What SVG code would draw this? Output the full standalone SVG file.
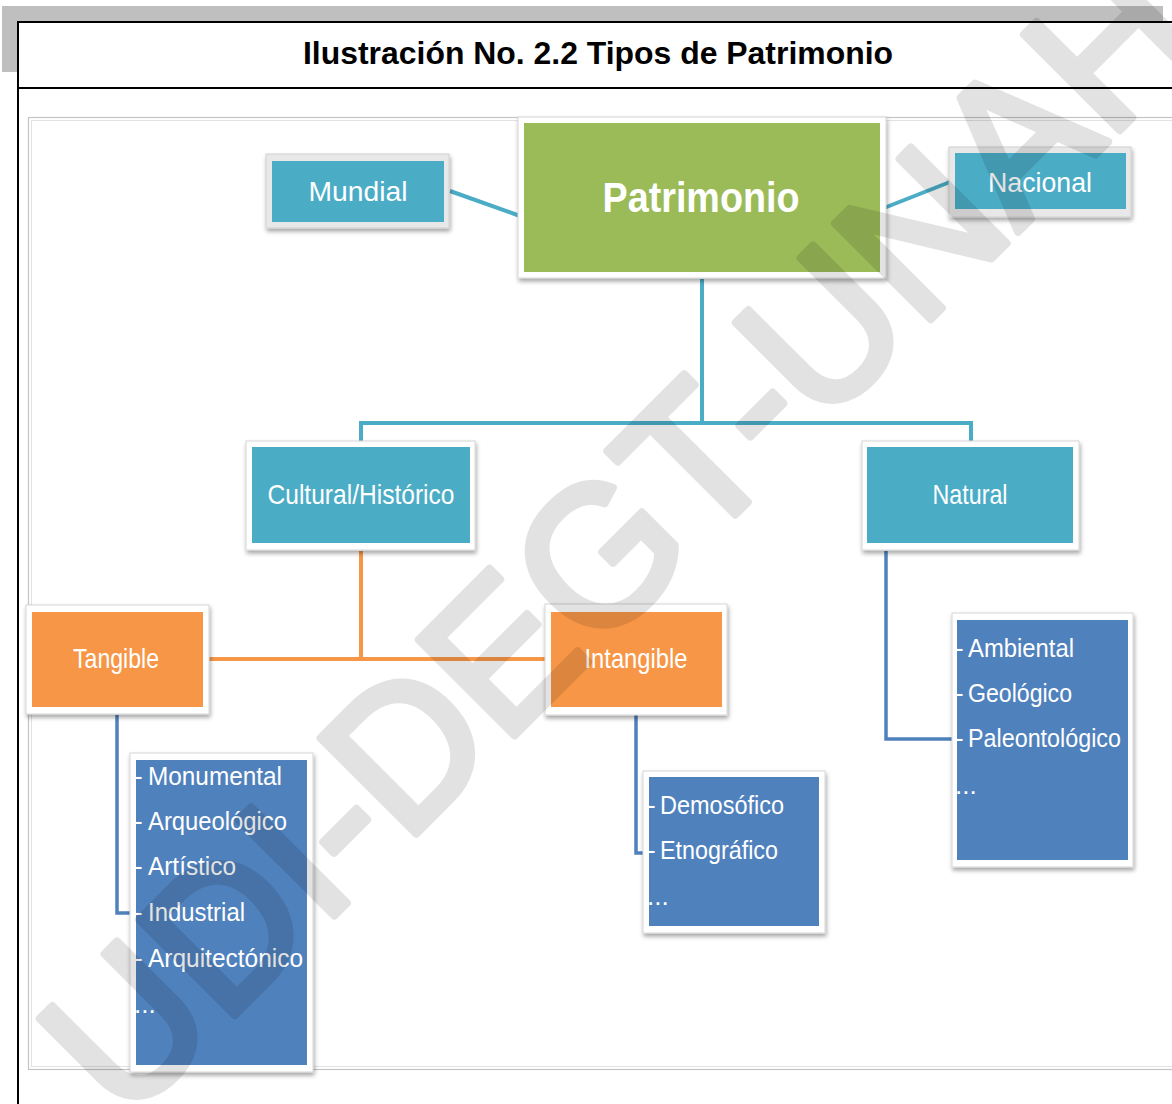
<svg xmlns="http://www.w3.org/2000/svg" width="1172" height="1104" viewBox="0 0 1172 1104">
<defs>
<filter id="sh" x="-10%" y="-10%" width="125%" height="130%">
<feDropShadow dx="1" dy="3" stdDeviation="2.2" flood-color="#000" flood-opacity="0.35"/>
</filter>
<style>
.frame{fill:#fff;stroke:#d6d6d6;stroke-width:1;filter:url(#sh)}
.gframe{fill:#e8e8e8;stroke:#d0d0d0;stroke-width:1;filter:url(#sh)}
.green{fill:#9BBB59}
.teal{fill:#4BACC6}
.orange{fill:#F79646}
.blue{fill:#4F81BD}
.lbl{font-family:"Liberation Sans",Arial,sans-serif;fill:#fff;font-size:28px;text-anchor:middle}
.big{font-family:"Liberation Sans",Arial,sans-serif;fill:#fff;font-size:43px;font-weight:bold;text-anchor:middle}
.item{font-family:"Liberation Sans",Arial,sans-serif;fill:#fff;font-size:26px}
.ct{fill:none;stroke:#4BACC6;stroke-width:4}
.co{fill:none;stroke:#F79646;stroke-width:4}
.cb{fill:none;stroke:#4F81BD;stroke-width:3.5}
</style>
</defs>
<rect x="0" y="0" width="1172" height="1104" fill="#fff"/>
<g id="page-frame">
<rect x="2" y="6" width="1161" height="15" fill="#bfbfbf"/>
<rect x="2" y="6" width="15" height="66" fill="#bfbfbf"/>
<line x1="17" y1="22" x2="1172" y2="22" stroke="#000" stroke-width="2"/>
<line x1="18" y1="21" x2="18" y2="1104" stroke="#000" stroke-width="2"/>
<line x1="17" y1="88" x2="1172" y2="88" stroke="#000" stroke-width="2"/>
<text x="598" y="64" font-family="'Liberation Sans',Arial,sans-serif" font-size="32" font-weight="bold" text-anchor="middle" fill="#000" textLength="590" lengthAdjust="spacingAndGlyphs">Ilustración No. 2.2 Tipos de Patrimonio</text>
<rect x="28.5" y="117.5" width="1160" height="952" fill="none" stroke="#c4c4c4" stroke-width="1.2"/>
<rect x="31.5" y="120.5" width="1160" height="946" fill="none" stroke="#e2e2e2" stroke-width="1"/>
</g>
<g id="connectors">
<line class="ct" x1="450" y1="191" x2="520" y2="216"/>
<line class="ct" x1="884" y1="208" x2="950" y2="182"/>
<polyline class="ct" points="702,279 702,423"/>
<polyline class="ct" points="361,442 361,423 971,423 971,442"/>
<polyline class="co" points="361,551 361,659"/>
<line class="co" x1="209" y1="659" x2="546" y2="659"/>
<polyline class="cb" points="117,715 117,913 131,913"/>
<polyline class="cb" points="636,715 636,853 644,853"/>
<polyline class="cb" points="886,551 886,739 953,739"/>
</g>
<g id="node-patrimonio">
<rect class="frame" x="518" y="117" width="368" height="161"/>
<rect class="green" x="524" y="123" width="356" height="149"/>
<text class="big" x="701" y="212" textLength="197" lengthAdjust="spacingAndGlyphs">Patrimonio</text>
</g>
<g id="node-mundial">
<rect class="gframe" x="266" y="154" width="183" height="74"/>
<rect class="teal" x="272" y="161" width="172" height="61"/>
<text class="lbl" x="358" y="201" textLength="99" lengthAdjust="spacingAndGlyphs">Mundial</text>
</g>
<g id="node-nacional">
<rect class="gframe" x="949" y="147" width="182" height="70"/>
<rect class="teal" x="955" y="153" width="171" height="56"/>
<text class="lbl" x="1040" y="192" textLength="104" lengthAdjust="spacingAndGlyphs">Nacional</text>
</g>
<g id="node-cultural">
<rect class="frame" x="246" y="441" width="229" height="109"/>
<rect class="teal" x="252" y="447" width="218" height="96"/>
<text class="lbl" x="361" y="504" textLength="187" lengthAdjust="spacingAndGlyphs">Cultural/Histórico</text>
</g>
<g id="node-natural">
<rect class="frame" x="862" y="441" width="217" height="109"/>
<rect class="teal" x="867" y="447" width="206" height="96"/>
<text class="lbl" x="970" y="504" textLength="75" lengthAdjust="spacingAndGlyphs">Natural</text>
</g>
<g id="node-tangible">
<rect class="frame" x="26" y="605" width="183" height="109"/>
<rect class="orange" x="32" y="612" width="171" height="95"/>
<text class="lbl" x="116" y="668" textLength="86" lengthAdjust="spacingAndGlyphs">Tangible</text>
</g>
<g id="node-intangible">
<rect class="frame" x="545" y="604" width="182" height="111"/>
<rect class="orange" x="551" y="612" width="171" height="95"/>
<text class="lbl" x="636" y="668" textLength="103" lengthAdjust="spacingAndGlyphs">Intangible</text>
</g>
<g id="node-tangible-list">
<rect class="frame" x="130" y="753" width="183" height="319"/>
<rect class="blue" x="136" y="760" width="171" height="305"/>
<g class="item">
<text x="134" y="785">-</text><text x="148" y="785" textLength="134" lengthAdjust="spacingAndGlyphs">Monumental</text>
<text x="134" y="830">-</text><text x="148" y="830" textLength="139" lengthAdjust="spacingAndGlyphs">Arqueológico</text>
<text x="134" y="875">-</text><text x="148" y="875" textLength="88" lengthAdjust="spacingAndGlyphs">Artístico</text>
<text x="134" y="921">-</text><text x="148" y="921" textLength="97" lengthAdjust="spacingAndGlyphs">Industrial</text>
<text x="134" y="967">-</text><text x="148" y="967" textLength="155" lengthAdjust="spacingAndGlyphs">Arquitectónico</text>
<text x="134" y="1013">...</text>
</g>
</g>
<g id="node-intangible-list">
<rect class="frame" x="643" y="771" width="182" height="162"/>
<rect class="blue" x="649" y="777" width="170" height="149"/>
<g class="item">
<text x="647" y="814">-</text><text x="660" y="814" textLength="124" lengthAdjust="spacingAndGlyphs">Demosófico</text>
<text x="647" y="859">-</text><text x="660" y="859" textLength="118" lengthAdjust="spacingAndGlyphs">Etnográfico</text>
<text x="647" y="905">...</text>
</g>
</g>
<g id="node-natural-list">
<rect class="frame" x="952" y="613" width="181" height="254"/>
<rect class="blue" x="957" y="620" width="171" height="240"/>
<g class="item">
<text x="955" y="657">-</text><text x="968" y="657" textLength="106" lengthAdjust="spacingAndGlyphs">Ambiental</text>
<text x="955" y="702">-</text><text x="968" y="702" textLength="104" lengthAdjust="spacingAndGlyphs">Geológico</text>
<text x="955" y="747">-</text><text x="968" y="747" textLength="153" lengthAdjust="spacingAndGlyphs">Paleontológico</text>
<text x="955" y="794">...</text>
</g>
</g>
<g id="watermark" opacity="0.11">
<text x="666" y="584" transform="rotate(-45 666 584)" font-family="'Liberation Sans',Arial,sans-serif" font-size="197" text-anchor="middle" fill="#000" stroke="#000" stroke-width="8" stroke-linejoin="round" textLength="1530" lengthAdjust="spacingAndGlyphs">UDI-DEGT-UNAH</text>
</g>
</svg>
